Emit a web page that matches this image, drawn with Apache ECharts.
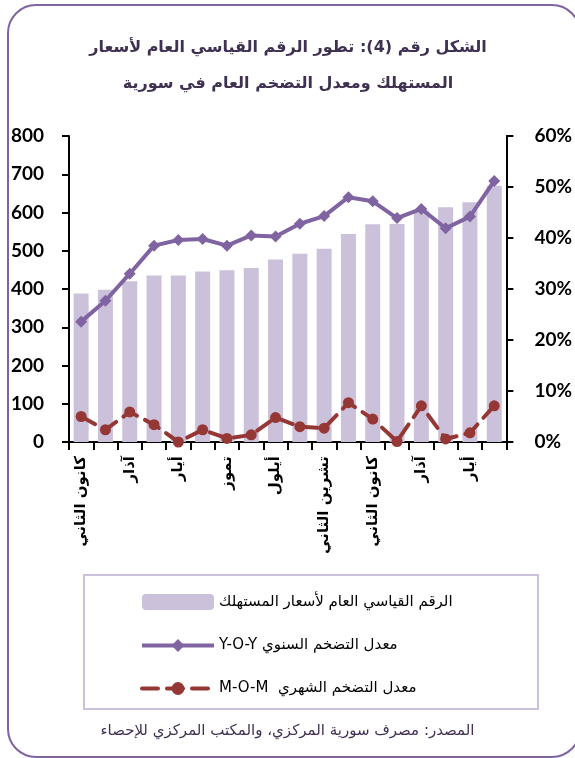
<!DOCTYPE html>
<html>
<head>
<meta charset="utf-8">
<script src="https://cdn.jsdelivr.net/npm/echarts@6/dist/echarts.min.js"></script>
<style>
html,body{margin:0;padding:0;background:#fff;}
#chart{width:575px;height:758px;direction:rtl;}
</style>
</head>
<body>
<div id="chart"></div>
<script>
const categories = ['كانون الثاني','شباط','آذار','نيسان','أيار','حزيران','تموز','آب','أيلول','تشرين الأول','تشرين الثاني','كانون الأول','كانون الثاني','شباط','آذار','نيسان','أيار','حزيران'];
const cpiIndex = [388,398,420,435,435,446,449,455,477,492,505,544,569,570,605,614,627,670];
const yoyInflation = [23.6,27.7,33.0,38.5,39.6,39.8,38.5,40.5,40.3,42.8,44.3,48.0,47.2,43.9,45.7,41.9,44.2,51.2];
const momInflation = [5.0,2.4,5.9,3.4,0.0,2.4,0.7,1.4,4.8,3.0,2.7,7.7,4.5,0.1,7.1,0.6,1.8,7.1];
const leftTicks = [0,100,200,300,400,500,600,700,800];
const rightTicks = [0,10,20,30,40,50,60];

const titleText = 'الشكل رقم (4): تطور الرقم القياسي العام لأسعار\nالمستهلك ومعدل التضخم العام في سورية';
const seriesNames = ['الرقم القياسي العام لأسعار المستهلك','معدل التضخم السنوي Y-O-Y','معدل التضخم الشهري  M-O-M'];
const sourceText = 'المصدر: مصرف سورية المركزي، والمكتب المركزي للإحصاء';

const arabicFont = "'DejaVu Sans', sans-serif";
const numFont = "Lato, 'DejaVu Sans', sans-serif";

const chart = echarts.init(document.getElementById('chart'), null, {renderer:'canvas'});
chart.setOption({
  backgroundColor:'#ffffff',
  animation:false,
  title:{
    text:titleText,
    left:283, top:25, textAlign:'center',
    textStyle:{fontFamily:arabicFont,fontWeight:'bold',fontSize:16,color:'#3F3151',lineHeight:36,align:'center'}
  },
  graphic:[
    {type:'rect',z:-10,shape:{x:8,y:5,width:572,height:752,r:28},style:{fill:'none',stroke:'#8064A2',lineWidth:2}},
    {type:'rect',z:-10,shape:{x:84,y:575,width:454,height:134},style:{fill:'none',stroke:'#CCC1DA',lineWidth:2}},
    {type:'text',left:'center',top:724,style:{text:sourceText,fontFamily:arabicFont,fontSize:15,fill:'#403152'}}
  ],
  legend:{
    orient:'vertical', left:135, top:589,
    itemWidth:72, itemHeight:16, itemGap:28,
    selectedMode:false,
    data:[
      {name:seriesNames[0],icon:'roundRect'},
      {name:seriesNames[1]},
      {name:seriesNames[2]}
    ],
    textStyle:{fontFamily:arabicFont,fontSize:15,color:'#000'},
    lineStyle:{width:4}
  },
  grid:{left:69,right:65,top:136,bottom:316,containLabel:false},
  xAxis:{
    type:'category', data:categories, boundaryGap:true,
    axisLine:{show:true,lineStyle:{color:'#000',width:2}},
    axisTick:{show:true,interval:0,length:8,lineStyle:{color:'#000',width:2}},
    axisLabel:{interval:1,rotate:90,margin:14,fontFamily:arabicFont,fontSize:15,fontWeight:'bold',color:'#000'},
    splitLine:{show:false}
  },
  yAxis:[
    {type:'value',min:0,max:800,interval:100,position:'left',
     axisLine:{show:true,lineStyle:{color:'#000',width:2}},
     axisTick:{show:true,length:7,lineStyle:{color:'#000',width:2}},
     axisLabel:{margin:25,fontFamily:numFont,fontSize:19,fontWeight:'bold',color:'#000',
       formatter:v=>leftTicks.includes(v)?String(v):''},
     splitLine:{show:false}},
    {type:'value',min:0,max:60,interval:10,position:'right',
     axisLine:{show:true,lineStyle:{color:'#000',width:2}},
     axisTick:{show:true,length:7,lineStyle:{color:'#000',width:2}},
     axisLabel:{margin:28,fontFamily:numFont,fontSize:19,fontWeight:'bold',color:'#000',
       formatter:v=>rightTicks.includes(v)?v+'%':''},
     splitLine:{show:false}}
  ],
  series:[
    {name:seriesNames[0],type:'bar',data:cpiIndex,yAxisIndex:0,barWidth:15,
     itemStyle:{color:'#CCC1DA',borderRadius:0},z:1},
    {name:seriesNames[1],type:'line',data:yoyInflation,yAxisIndex:1,
     symbol:'diamond',symbolSize:12,showAllSymbol:true,
     lineStyle:{color:'#8064A2',width:4},itemStyle:{color:'#8064A2'},z:3},
    {name:seriesNames[2],type:'line',data:momInflation,yAxisIndex:1,
     symbol:'circle',symbolSize:11,showAllSymbol:true,
     lineStyle:{color:'#953735',width:4,type:[16,9],cap:'round'},itemStyle:{color:'#953735'},z:4}
  ]
});
</script>
</body>
</html>
